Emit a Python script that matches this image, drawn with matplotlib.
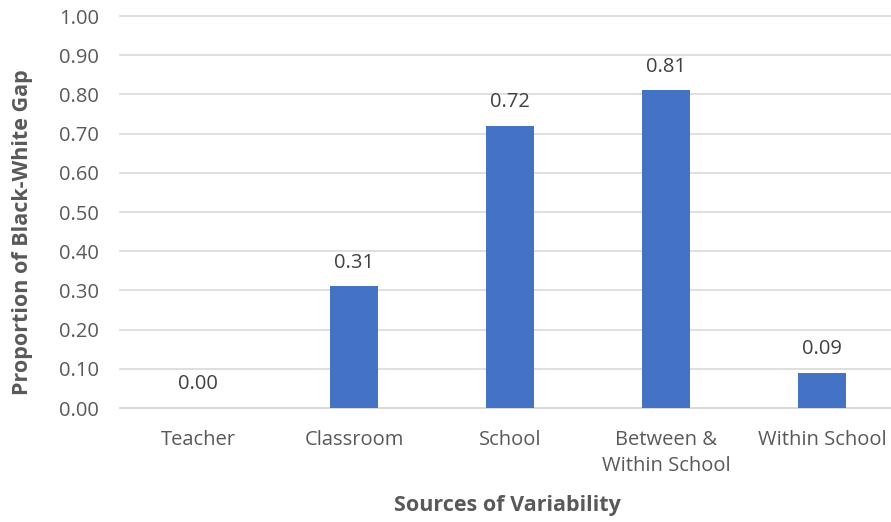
import matplotlib
matplotlib.use("Agg")
import matplotlib.pyplot as plt

categories = ["Teacher", "Classroom", "School", "Between &\nWithin School", "Within School"]
values = [0.00, 0.31, 0.72, 0.81, 0.09]
labels = ["0.00", "0.31", "0.72", "0.81", "0.09"]
yticks = [0.0, 0.1, 0.2, 0.3, 0.4, 0.5, 0.6, 0.7, 0.8, 0.9, 1.0]

plt.rcParams['font.family'] = ['Open Sans', 'DejaVu Sans']
text_color = "#595959"
grid_color = "#D9D9D9"

fig = plt.figure(figsize=(8.91, 5.22), dpi=100)
W, H = 891, 522
ax = fig.add_axes([120 / W, (H - 408) / H, 780 / W, (408 - 16) / H])

x = list(range(len(categories)))
ax.bar(x, values, width=0.31, color="#4472C4", zorder=3)
for xi, v, lab in zip(x, values, labels):
    ax.annotate(lab, (xi, v), xytext=(0, 17), textcoords="offset points",
                ha="center", va="center", fontsize=14.5, color="#404040")

ax.set_xlim(-0.5, len(categories) - 0.5)
ax.set_ylim(0, 1.0)
ax.set_yticks(yticks)
ax.set_yticklabels([f"{t:.2f}" for t in yticks])
ax.set_xticks(x)
ax.set_xticklabels(categories, linespacing=1.4)

for s in ["top", "right", "left"]:
    ax.spines[s].set_visible(False)
ax.spines["bottom"].set_color(grid_color)
ax.spines["bottom"].set_linewidth(1.2)
ax.yaxis.grid(True, color=grid_color, linewidth=1.2, zorder=0)
for gl in ax.get_ygridlines():
    gl.set_clip_on(False)
ax.set_axisbelow(True)

ax.tick_params(axis="both", length=0, labelsize=14.5, labelcolor=text_color)
ax.tick_params(axis="y", pad=15)
ax.tick_params(axis="x", pad=16)

fig.text(23 / W, 1 - 232 / H, "Proportion of Black-White Gap", rotation=90,
         ha="center", va="center", fontsize=15.5, fontweight="bold", color=text_color)
fig.text(507 / W, 1 - 505 / H, "Sources of Variability",
         ha="center", va="center", fontsize=15.5, fontweight="bold", color=text_color)

fig.savefig("out.png", dpi=100)
